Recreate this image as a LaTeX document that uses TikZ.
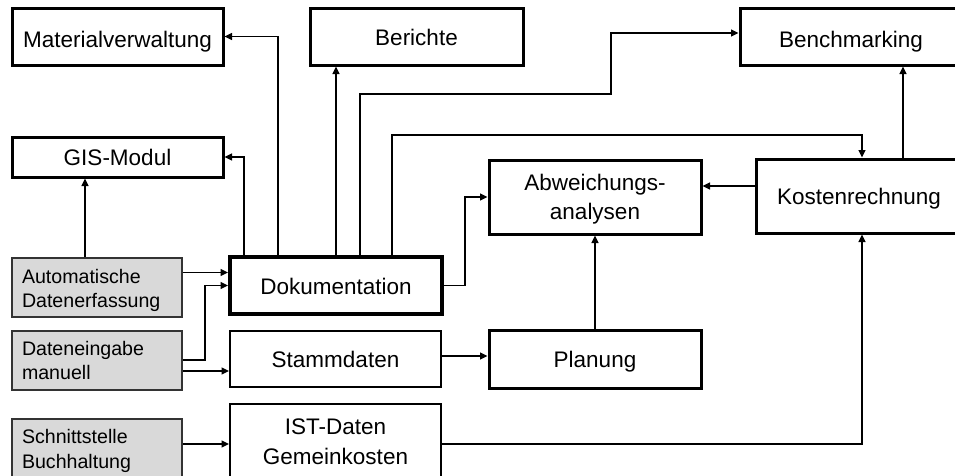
\documentclass[tikz,border=0pt]{standalone}
\usepackage{fontspec}
\setmainfont{Liberation Sans}
\usetikzlibrary{arrows.meta}
\begin{document}
\begin{tikzpicture}[x=1pt,y=-1pt,
  mainbox/.style={draw=black, line width=3pt, fill=white, inner sep=0pt, align=center,
    text height=17pt, text depth=0pt, font=\fontsize{22.5}{29}\selectfont},
  thinbox/.style={mainbox, line width=2pt},
  graybox/.style={draw=black!80, line width=2pt, fill=black!15, inner sep=0pt},
  graytext/.style={inner sep=0pt, align=left, text width=150pt,
    font=\fontsize{19.6}{24.7}\selectfont},
  bigtext/.style={inner sep=0pt, align=center},
  arr/.style={line width=1.35pt, -{Triangle[length=7.5pt,width=7pt]}}]
\useasboundingbox (0,0) rectangle (955,475);
\clip (0,0) rectangle (955,475);
\fill[white] (0,0) rectangle (955,475);
% main boxes
\node[mainbox, text height=21pt, minimum width=211pt, minimum height=57pt] (mat) at (117.5,36.5) {Materialverwaltung};
\node[mainbox, minimum width=213pt, minimum height=57pt] (ber) at (416.5,36.5) {Berichte};
\node[mainbox, text height=21pt, minimum width=222pt, minimum height=57pt] (bench) at (851,36.5) {Benchmarking};
\node[mainbox, minimum width=211pt, minimum height=40pt] (gis) at (117.5,157) {GIS-Modul};
\node[mainbox, minimum width=212pt, minimum height=74pt] (abw) at (595,197) {};
\node[bigtext, font=\fontsize{22.5}{29}\selectfont] (abwtext) at (595,199.6) {Abweichungs-\\analysen};
\node[mainbox, minimum width=206pt, minimum height=74pt] (kost) at (859,196) {Kostenrechnung};
\node[mainbox, line width=4pt, minimum width=212pt, minimum height=57pt] (doku) at (336,285.5) {Dokumentation};
\node[thinbox, minimum width=211pt, minimum height=56pt] (stamm) at (335.5,359) {Stammdaten};
\node[mainbox, minimum width=212pt, minimum height=58pt] (plan) at (595,359) {Planung};
\node[thinbox, minimum width=211pt, minimum height=80pt] (ist) at (335.5,444) {};
\node[bigtext, font=\fontsize{22.5}{30}\selectfont] (isttext) at (335.5,441.9) {IST-Daten\\Gemeinkosten};
% gray boxes
\node[graybox, minimum width=170pt, minimum height=59pt] (auto) at (97,287.5) {};
\node[graytext] (autotext) at (97,290.5) {Automatische\\Datenerfassung};
\node[graybox, minimum width=170pt, minimum height=59pt] (dat) at (97,360.5) {};
\node[graytext] (dattext) at (97,360.5) {Dateneingabe\\manuell};
\node[graybox, minimum width=170pt, minimum height=80pt] (schn) at (97,458.5) {};
\node[graytext] (schntext) at (97,450.8) {Schnittstelle\\Buchhaltung};
% connectors
\draw[arr] ([yshift=15pt]auto.east) -- ([yshift=15pt]auto.east -| doku.west);
\draw[arr] ([yshift=0.5pt]dat.east) -- (205,360) |- (doku.west);
\draw[arr] ([yshift=-10.5pt]dat.east) -- ([yshift=-10.5pt]dat.east -| stamm.west);
\draw[arr] (schn.east |- ist.east) -- (ist.west |- ist.east);
\draw[arr] ([yshift=3pt]stamm.east) -- ([yshift=3pt]stamm.east -| plan.west);
\draw[arr] (ist.east) -| ([xshift=3pt]kost.south);
\draw[arr] (plan.north) -- (abw.south);
\draw[arr] (doku.east) -- (465,285.5) |- (abw.west);
\draw[arr] ([yshift=10pt]kost.west) -- ([yshift=10pt]kost.west -| abw.east);
\draw[arr] ([xshift=44pt]kost.north) -- ([xshift=44pt]kost.north |- bench.south);
\draw[arr] ([xshift=56pt]doku.north) -- (392,135) -| ([xshift=3pt]kost.north);
\draw[arr] ([xshift=24pt]doku.north) -- (360,94) -- (611,94) -- (611,33) -- ([yshift=3.5pt]bench.west);
\draw[arr] (doku.north) -- (doku.north |- ber.south);
\draw[arr] ([xshift=-58pt]doku.north) |- (mat.east);
\draw[arr] ([xshift=-92pt]doku.north) |- (gis.east);
\draw[arr] ([xshift=-12pt]auto.north) -- ([xshift=-12pt]auto.north |- gis.south);
\end{tikzpicture}
\end{document}
